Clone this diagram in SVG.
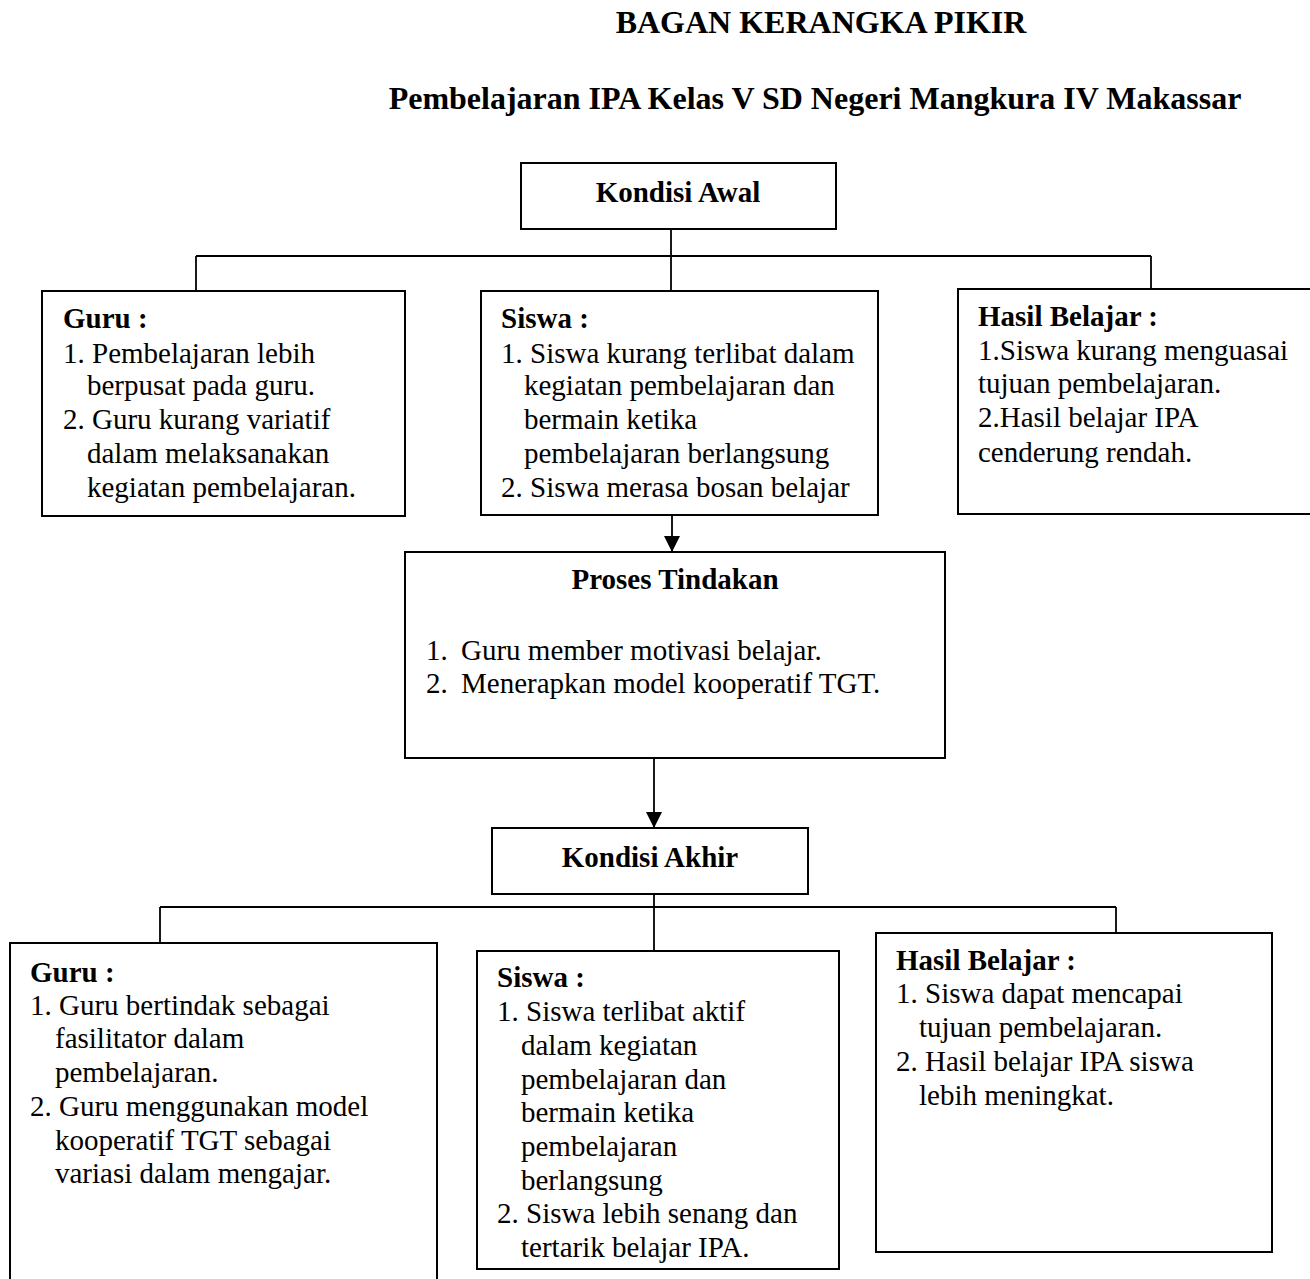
<svg xmlns="http://www.w3.org/2000/svg" width="1310" height="1279" viewBox="0 0 1310 1279">
<style>
.box{fill:#fff;stroke:#000;stroke-width:2}
.t{font-family:"Liberation Serif","Times New Roman",serif;font-size:29px;fill:#000}
.b{font-weight:bold}
.title{font-family:"Liberation Serif","Times New Roman",serif;font-size:32px;font-weight:bold;fill:#000}
.c{fill:none;stroke:#000;stroke-width:1.8}
</style>
<defs>
<marker id="arr" markerUnits="userSpaceOnUse" markerWidth="18" markerHeight="16" refX="16" refY="8" orient="auto">
<path d="M0,0 L16,8 L0,16 Z" fill="#000"/>
</marker>
</defs>
<rect width="1310" height="1279" fill="#fff"/>
<text class="title" x="821" y="33" text-anchor="middle">BAGAN KERANGKA PIKIR</text>
<text class="title" x="815" y="109" text-anchor="middle">Pembelajaran IPA Kelas V SD Negeri Mangkura IV Makassar</text>

<g id="connectors">
<line class="c" x1="671" y1="229" x2="671" y2="291"/>
<line class="c" x1="196" y1="256" x2="1151" y2="256"/>
<line class="c" x1="196" y1="256" x2="196" y2="291"/>
<line class="c" x1="1151" y1="256" x2="1151" y2="289"/>
<line class="c" x1="672" y1="515" x2="672" y2="552" marker-end="url(#arr)"/>
<line class="c" x1="654" y1="758" x2="654" y2="828" marker-end="url(#arr)"/>
<line class="c" x1="654" y1="894" x2="654" y2="951"/>
<line class="c" x1="160" y1="907" x2="1116" y2="907"/>
<line class="c" x1="160" y1="907" x2="160" y2="943"/>
<line class="c" x1="1116" y1="907" x2="1116" y2="933"/>
</g>

<g id="kondisi-awal">
<rect class="box" x="521" y="163" width="315" height="66"/>
<text class="t b" x="678" y="202" text-anchor="middle">Kondisi Awal</text>
</g>

<g id="guru-awal">
<rect class="box" x="42" y="291" width="363" height="225"/>
<text class="t b" x="63" y="328">Guru :</text>
<text class="t" x="63" y="363">1. Pembelajaran lebih</text>
<text class="t" x="87" y="395">berpusat pada guru.</text>
<text class="t" x="63" y="429">2. Guru kurang variatif</text>
<text class="t" x="87" y="463">dalam melaksanakan</text>
<text class="t" x="87" y="497">kegiatan pembelajaran.</text>
</g>

<g id="siswa-awal">
<rect class="box" x="481" y="291" width="397" height="224"/>
<text class="t b" x="501" y="328">Siswa :</text>
<text class="t" x="501" y="363">1. Siswa kurang terlibat dalam</text>
<text class="t" x="524" y="395">kegiatan pembelajaran dan</text>
<text class="t" x="524" y="429">bermain ketika</text>
<text class="t" x="524" y="463">pembelajaran berlangsung</text>
<text class="t" x="501" y="497">2. Siswa merasa bosan belajar</text>
</g>

<g id="hasil-awal">
<rect class="box" x="958" y="289" width="360" height="225"/>
<text class="t b" x="978" y="326">Hasil Belajar :</text>
<text class="t" x="978" y="360">1.Siswa kurang menguasai</text>
<text class="t" x="978" y="393">tujuan pembelajaran.</text>
<text class="t" x="978" y="427">2.Hasil belajar IPA</text>
<text class="t" x="978" y="462">cenderung rendah.</text>
</g>

<g id="proses-tindakan">
<rect class="box" x="405" y="552" width="540" height="206"/>
<text class="t b" x="675" y="589" text-anchor="middle">Proses Tindakan</text>
<text class="t" x="426" y="660">1.</text>
<text class="t" x="461" y="660">Guru member motivasi belajar.</text>
<text class="t" x="426" y="693">2.</text>
<text class="t" x="461" y="693">Menerapkan model kooperatif TGT.</text>
</g>

<g id="kondisi-akhir">
<rect class="box" x="492" y="828" width="316" height="66"/>
<text class="t b" x="650" y="867" text-anchor="middle">Kondisi Akhir</text>
</g>

<g id="guru-akhir">
<rect class="box" x="10" y="943" width="427" height="345"/>
<text class="t b" x="30" y="982">Guru :</text>
<text class="t" x="30" y="1015">1. Guru bertindak sebagai</text>
<text class="t" x="55" y="1048">fasilitator dalam</text>
<text class="t" x="55" y="1082">pembelajaran.</text>
<text class="t" x="30" y="1116">2. Guru menggunakan model</text>
<text class="t" x="55" y="1150">kooperatif TGT sebagai</text>
<text class="t" x="55" y="1183">variasi dalam mengajar.</text>
</g>

<g id="siswa-akhir">
<rect class="box" x="477" y="951" width="362" height="318"/>
<text class="t b" x="497" y="987">Siswa :</text>
<text class="t" x="497" y="1021">1. Siswa terlibat aktif</text>
<text class="t" x="521" y="1055">dalam kegiatan</text>
<text class="t" x="521" y="1089">pembelajaran dan</text>
<text class="t" x="521" y="1122">bermain ketika</text>
<text class="t" x="521" y="1156">pembelajaran</text>
<text class="t" x="521" y="1190">berlangsung</text>
<text class="t" x="497" y="1223">2. Siswa lebih senang dan</text>
<text class="t" x="521" y="1257">tertarik belajar IPA.</text>
</g>

<g id="hasil-akhir">
<rect class="box" x="876" y="933" width="396" height="319"/>
<text class="t b" x="896" y="970">Hasil Belajar :</text>
<text class="t" x="896" y="1003">1. Siswa dapat mencapai</text>
<text class="t" x="919" y="1037">tujuan pembelajaran.</text>
<text class="t" x="896" y="1071">2. Hasil belajar IPA siswa</text>
<text class="t" x="919" y="1105">lebih meningkat.</text>
</g>
</svg>
